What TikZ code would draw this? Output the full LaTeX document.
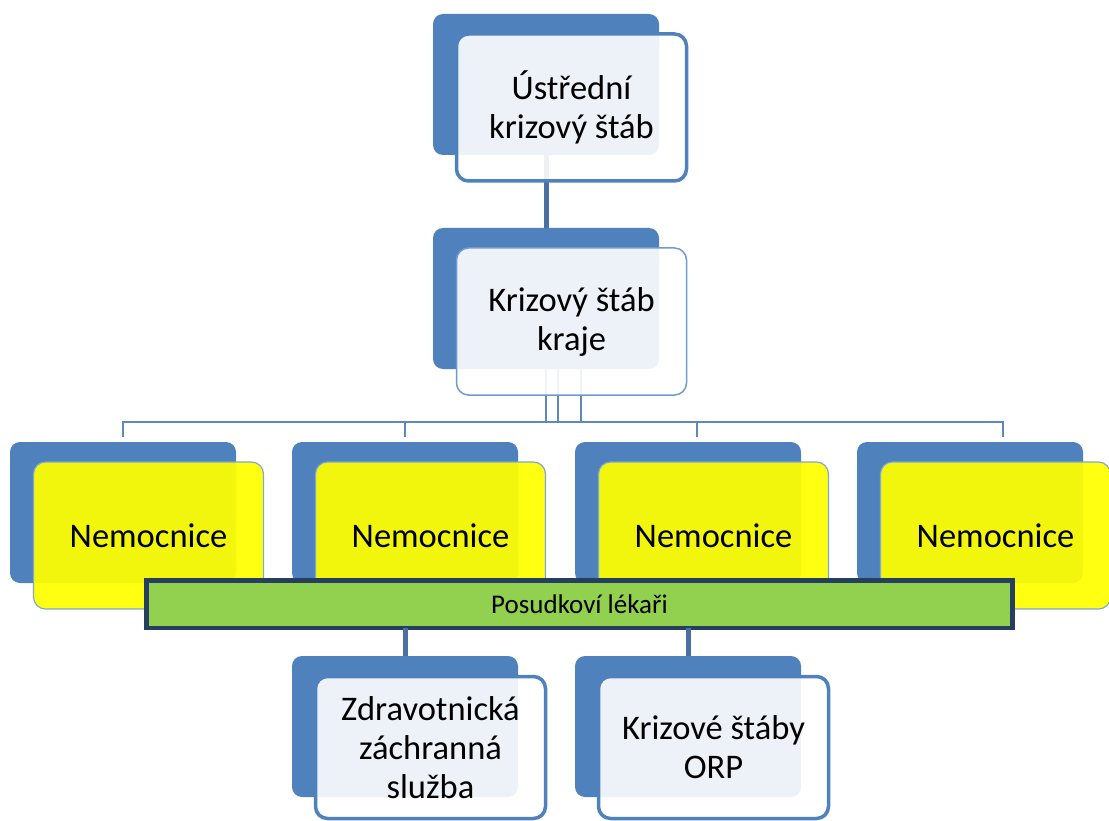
\documentclass[tikz,border=0pt]{standalone}
\usepackage{fontspec}
\setmainfont{Carlito}
\definecolor{backblue}{HTML}{4F81BD}
\definecolor{linkdark}{HTML}{4A6FA3}
\definecolor{linkthin}{HTML}{5E89BF}
\definecolor{thinborder}{HTML}{6F9BD1}
\definecolor{hospyellow}{HTML}{FFFF00}
\definecolor{hospborder}{HTML}{7EA6D8}
\definecolor{barfill}{HTML}{92D050}
\definecolor{barborder}{HTML}{263F5E}
\begin{document}
\begin{tikzpicture}[x=1pt,y=-1pt,
  backbox/.style={fill=backblue, rounded corners=10pt, minimum width=226pt, minimum height=141pt, inner sep=0pt, outer sep=0pt},
  frontbox/.style={fill=white, fill opacity=0.9, text opacity=1, rounded corners=12pt, minimum width=230pt, minimum height=147pt, inner sep=0pt, outer sep=0pt, align=center, font=\fontsize{34.5}{39}\selectfont, text=black},
  frontthick/.style={frontbox, draw=backblue, line width=3.5pt},
  frontthin/.style={frontbox, draw=thinborder, line width=1.5pt},
  hospbox/.style={frontbox, fill=hospyellow, fill opacity=0.93, draw=hospborder, line width=1.2pt},
  darklink/.style={draw=linkdark, line width=5pt},
  thinlink/.style={draw=linkthin, line width=1.5pt},
  barbox/.style={fill=barfill, draw=barborder, line width=4.5pt, minimum width=866pt, minimum height=47.5pt, inner sep=0pt, outer sep=0pt, font=\fontsize{27}{30}\selectfont, text=black}
]
\useasboundingbox (0,0) rectangle (1109,821);

% back boxes
\node[backbox] (b1) at (546,84.5) {};
\node[backbox] (b2) at (546,298.5) {};
\node[backbox] (n1b) at (123,512.5) {};
\node[backbox] (n2b) at (405,512.5) {};
\node[backbox] (n3b) at (688,512.5) {};
\node[backbox] (n4b) at (970,512.5) {};
\node[backbox] (z1b) at (405,726.5) {};
\node[backbox] (z2b) at (688,726.5) {};

% connectors
\coordinate (bus) at (0,422);
\draw[darklink] (b1.south) -- (b2.north);
\draw[thinlink] (b2.south) -- (b2.south |- bus);
\draw[thinlink] ([xshift=12pt]b2.south) -- ([xshift=12pt]b2.south |- bus);
\draw[thinlink] ([xshift=35pt]b2.south) -- ([xshift=35pt]b2.south |- bus);
\draw[thinlink] ([yshift=5pt]n1b.north) -- (n1b.north |- bus) -- ([xshift=33pt]n4b.north |- bus) -- ([xshift=33pt,yshift=5pt]n4b.north);
\draw[thinlink] (n2b.north |- bus) -- ([yshift=5pt]n2b.north);
\draw[thinlink] ([xshift=9pt]n3b.north |- bus) -- ([xshift=9pt,yshift=5pt]n3b.north);

% front boxes
\node[frontthick] (b1f) at (571.5,107.5) {Ústřední\\krizový štáb};
\node[frontthin] (b2f) at (571.5,321.5) {Krizový štáb\\kraje};
\node[hospbox] (n1f) at (148.5,535.5) {Nemocnice};
\node[hospbox] (n2f) at (430.5,535.5) {Nemocnice};
\node[hospbox] (n3f) at (713.5,535.5) {Nemocnice};
\node[hospbox] (n4f) at (995.5,535.5) {Nemocnice};

% bar
\node[barbox] (g) at (579.5,604) {Posudkoví lékaři};
\draw[darklink] (z1b.north |- g.south) -- (z1b.north);
\draw[darklink] (z2b.north |- g.south) -- (z2b.north);

\node[frontthick, minimum height=142pt] (z1f) at (430.5,747.5) {Zdravotnická\\záchranná\\služba};
\node[frontthick, minimum height=142pt] (z2f) at (713.5,747.5) {Krizové štáby\\ORP};
\end{tikzpicture}
\end{document}
